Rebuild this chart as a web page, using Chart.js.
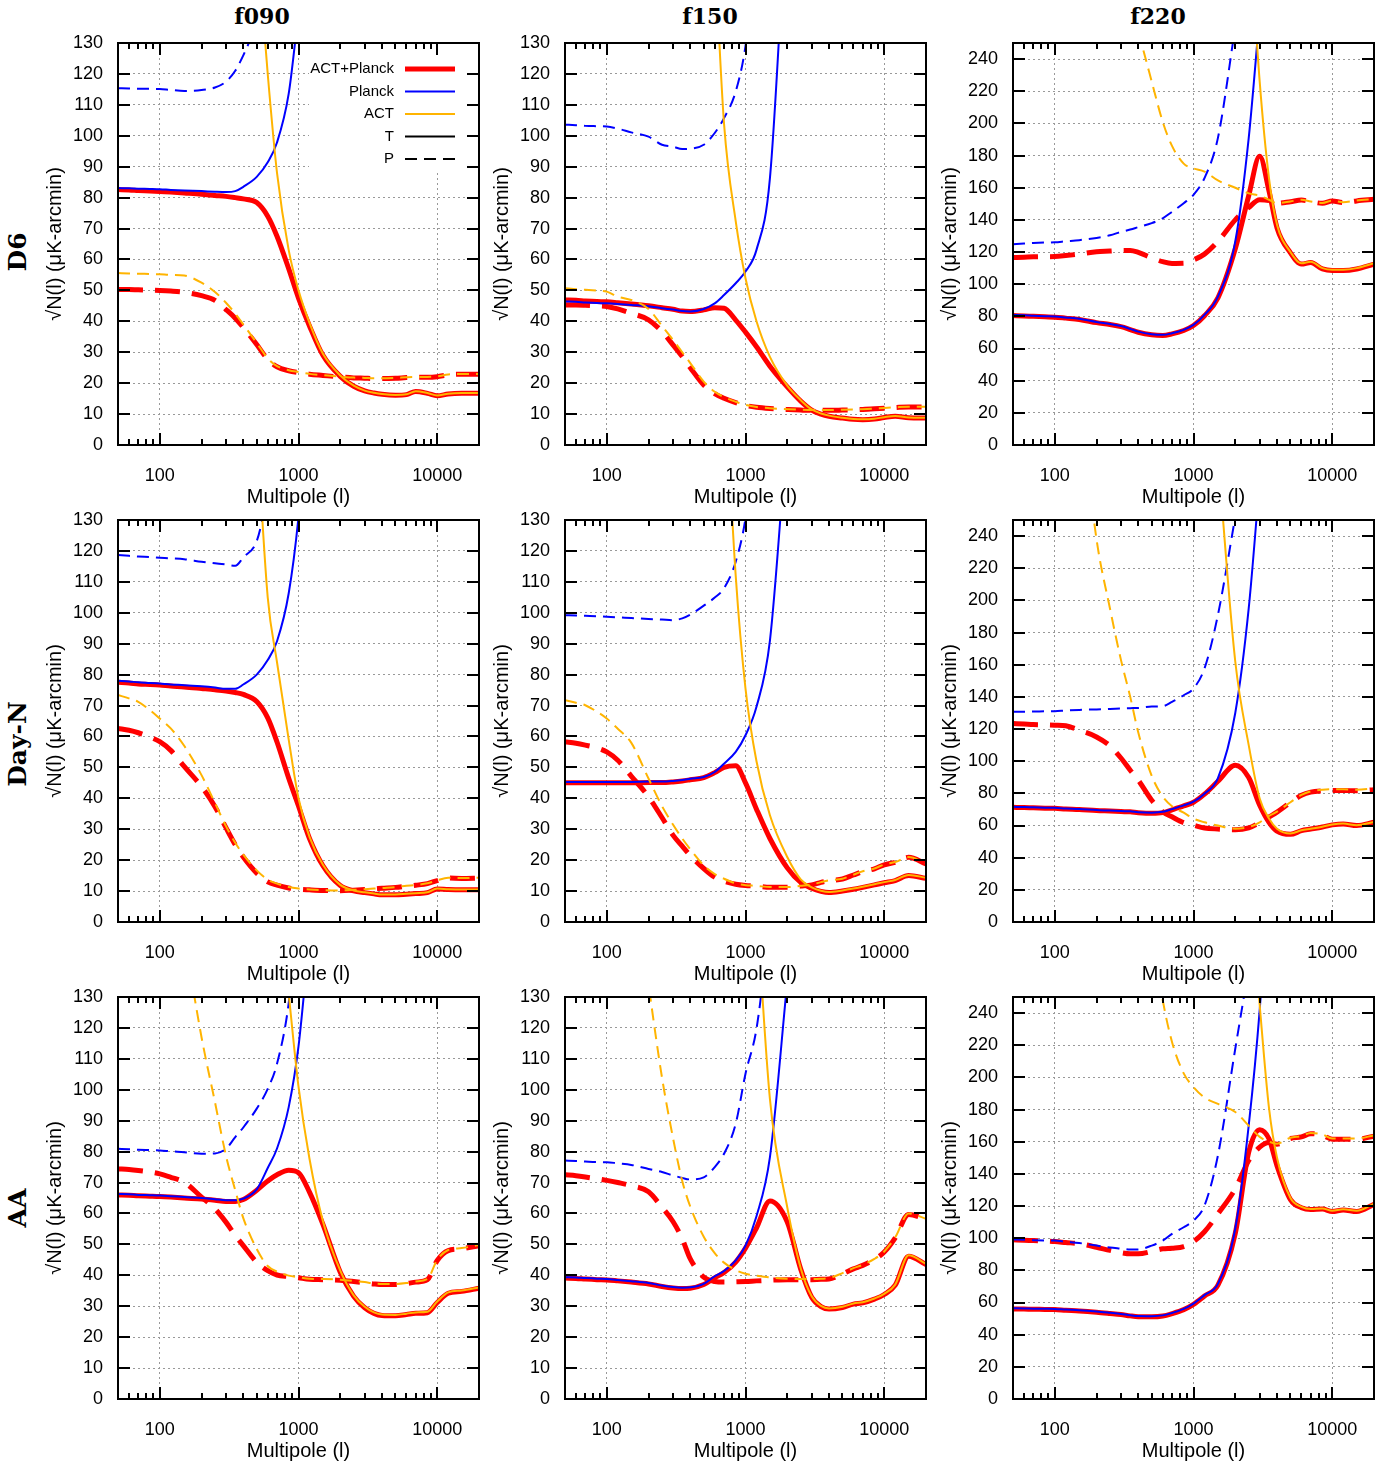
<!DOCTYPE html>
<html>
<head>
<meta charset="utf-8">
<title>Noise curves</title>
<script src="https://cdn.jsdelivr.net/npm/chart.js@4.4.0/dist/chart.umd.min.js"></script>
<style>
  body { margin: 0; background: #fff; width: 1390px; height: 1466px; position: relative; overflow: hidden; }
  canvas { position: absolute; }
  .col-title { position: absolute; font: bold 22px 'DejaVu Serif', serif; transform: translate(-50%, -50%); white-space: nowrap; }
  .row-title { position: absolute; font: bold 25px 'DejaVu Serif', serif; transform: translate(-50%, -50%) rotate(-90deg); white-space: nowrap; }
</style>
</head>
<body>
<div class="col-title" style="left:262px;top:16px">f090</div>
<div class="col-title" style="left:710px;top:16px">f150</div>
<div class="col-title" style="left:1158px;top:16px">f220</div>
<div class="row-title" style="left:17px;top:252px">D6</div>
<div class="row-title" style="left:17px;top:744px">Day-N</div>
<div class="row-title" style="left:17px;top:1208px">AA</div>

<script>
// ----- multipole grid shared by every curve -----
const ELL = [50, 60, 70, 85, 100, 120, 150, 200, 250, 300, 350, 400, 500, 600, 700, 850,
             1000, 1200, 1500, 2000, 2500, 3000, 3500, 4000, 5000, 6000, 7000, 8500,
             10000, 12000, 15000, 20000];

const X_TICKS = [100, 1000, 10000];
const Y_TICKS_LOW = [0, 10, 20, 30, 40, 50, 60, 70, 80, 90, 100, 110, 120, 130];
const Y_TICKS_HIGH = [0, 20, 40, 60, 80, 100, 120, 140, 160, 180, 200, 220, 240];

const _ = null;

// ----- D6 -----
const D6_F090 = {
  combT:   [82.6, 82.5, 82.3, 82.1, 82.0, 81.8, 81.5, 81.1, 80.7, 80.4, 80.0, 79.6, 78.4, 74.0, 67.5, 57.0, 47.5, 38.5, 29.0, 22.2, 19.0, 17.5, 16.8, 16.4, 16.1, 16.3, 17.3, 16.7, 15.9, 16.5, 16.7, 16.7],
  combP:   [50.3, 50.3, 50.2, 50.1, 50.0, 49.8, 49.4, 48.3, 46.8, 43.8, 41.0, 38.0, 32.5, 27.7, 25.3, 24.0, 23.4, 22.9, 22.5, 22.0, 21.7, 21.6, 21.5, 21.5, 21.6, 21.8, 21.9, 21.9, 22.1, 22.7, 22.9, 22.9],
  planckT: [83.1, 83.0, 82.9, 82.8, 82.7, 82.5, 82.3, 82.1, 81.9, 81.8, 82.1, 83.5, 86.7, 91.4, 97.8, 113.6, 140, _, _, _, _, _, _, _, _, _, _, _, _, _, _, _],
  planckP: [115.4, 115.3, 115.2, 115.2, 115.1, 114.8, 114.5, 114.8, 115.6, 117.5, 121.0, 126.0, 136.0, _, _, _, _, _, _, _, _, _, _, _, _, _, _, _, _, _, _, _],
  actT:    [_, _, _, _, _, _, _, _, _, _, _, _, 165, 120, 88, 63, 50, 39.5, 29.5, 22.5, 19.2, 17.6, 16.9, 16.5, 16.2, 16.4, 17.4, 16.8, 16.0, 16.6, 16.8, 16.8],
  actP:    [55.6, 55.5, 55.4, 55.3, 55.2, 55.0, 54.8, 52.5, 49.5, 46.0, 42.5, 39.0, 33.0, 28.0, 25.5, 24.2, 23.6, 23.0, 22.6, 22.1, 21.8, 21.7, 21.6, 21.6, 21.7, 21.9, 22.0, 22.0, 22.2, 22.8, 23.0, 23.0]
};
const D6_F150 = {
  combT:   [46.9, 46.8, 46.6, 46.4, 46.3, 46.0, 45.6, 45.0, 44.4, 43.9, 43.3, 43.2, 43.7, 44.4, 44.2, 40.4, 36.5, 31.8, 25.5, 18.8, 14.2, 11.3, 10.0, 9.3, 8.7, 8.3, 8.2, 8.4, 8.9, 9.3, 8.8, 8.7],
  combP:   [45.3, 45.3, 45.2, 45.0, 44.8, 44.0, 42.6, 40.5, 36.7, 32.4, 28.6, 25.0, 19.4, 16.6, 15.1, 13.7, 12.8, 12.2, 11.8, 11.5, 11.3, 11.2, 11.2, 11.2, 11.3, 11.4, 11.5, 11.7, 11.9, 12.1, 12.3, 12.3],
  planckT: [46.4, 46.3, 46.1, 45.9, 45.8, 45.6, 45.3, 44.9, 44.2, 43.8, 43.3, 43.2, 44.0, 45.8, 48.5, 52.3, 56.1, 63.1, 86.3, 180, _, _, _, _, _, _, _, _, _, _, _, _],
  planckP: [103.6, 103.4, 103.2, 103.1, 103.0, 102.3, 101.1, 99.7, 97.1, 96.5, 95.7, 95.8, 97.1, 100.9, 105.7, 114.3, 129.0, 160, _, _, _, _, _, _, _, _, _, _, _, _, _, _],
  actT:    [_, _, _, _, _, _, _, _, _, _, _, _, _, 160, 104, 72.4, 53.9, 40, 28.5, 19.2, 14.5, 11.5, 10.2, 9.5, 8.8, 8.4, 8.3, 8.5, 9.0, 9.4, 8.9, 8.8],
  actP:    [50.7, 50.4, 50.2, 49.9, 49.6, 48.0, 46.9, 44.0, 38.5, 34.0, 30.0, 26.5, 20.5, 17.2, 15.5, 14.0, 13.0, 12.3, 11.9, 11.6, 11.4, 11.3, 11.3, 11.3, 11.4, 11.5, 11.6, 11.8, 12.0, 12.2, 12.4, 12.4]
};
const D6_F220 = {
  combT:   [80.5, 80.3, 80.0, 79.7, 79.5, 78.9, 78.1, 76.1, 74.9, 73.6, 71.8, 70.1, 68.5, 68.1, 69.1, 71.2, 74.3, 80.4, 91.5, 122, 155, 179.5, 158, 135, 119.5, 112.5, 113.5, 109.5, 108.5, 108.5, 109.5, 112.5],
  combP:   [116.6, 116.8, 117.0, 117.1, 117.2, 117.8, 118.7, 120.2, 120.6, 121.0, 121.0, 119.8, 116.4, 114.0, 112.9, 113.0, 115.1, 118.7, 126.6, 140.0, 147.7, 152.5, 152, 150.3, 151.3, 152.3, 151.3, 150.3, 151.8, 150.8, 151.8, 152.8],
  planckT: [80.9, 80.7, 80.4, 80.1, 79.9, 79.3, 78.5, 76.5, 75.3, 74.0, 72.2, 70.5, 68.9, 68.5, 69.5, 71.6, 74.7, 80.9, 92.3, 126.6, 190.9, 268, _, _, _, _, _, _, _, _, _, _],
  planckP: [124.9, 125.3, 125.6, 125.9, 126.1, 126.7, 127.4, 128.8, 130.4, 132.5, 134.0, 135.5, 138.0, 141.0, 145.0, 150.4, 155.6, 166.0, 191.0, 260, _, _, _, _, _, _, _, _, _, _, _, _],
  actT:    [_, _, _, _, _, _, _, _, _, _, _, _, _, _, _, _, _, _, _, _, 330, 226, 166, 137, 120, 113, 114, 110, 109, 109, 110, 113],
  actP:    [_, _, _, _, _, _, _, _, _, _, 280, 258, 226, 201, 186, 175, 172, 170, 164.5, 160, 156.5, 155, 152.5, 150.5, 151.5, 152.5, 151.5, 150.5, 152, 151, 152, 153]
};

// ----- Day-N -----
const DN_F090 = {
  combT:   [77.5, 77.3, 77.0, 76.8, 76.6, 76.3, 76.0, 75.5, 75.1, 74.7, 74.2, 73.6, 71.3, 66.0, 58.2, 46.5, 37.5, 27.0, 18.2, 11.8, 10.1, 9.5, 9.1, 8.8, 8.8, 9.0, 9.2, 9.5, 10.7, 10.5, 10.4, 10.4],
  combP:   [62.6, 62.0, 61.2, 59.8, 58.3, 55.5, 50.3, 43.8, 37.3, 30.5, 25.0, 21.0, 15.8, 13.0, 11.9, 11.0, 10.6, 10.4, 10.2, 10.1, 10.3, 10.5, 10.7, 10.9, 11.2, 11.6, 11.9, 12.4, 13.4, 14.2, 14.1, 14.2],
  planckT: [78.0, 77.8, 77.5, 77.3, 77.1, 76.8, 76.6, 76.2, 75.8, 75.4, 75.4, 76.8, 80.0, 84.7, 90.8, 106.3, 131, 175, _, _, _, _, _, _, _, _, _, _, _, _, _, _],
  planckP: [118.7, 118.4, 118.2, 118.0, 117.8, 117.6, 117.3, 116.5, 116.0, 115.6, 115.2, 117.9, 123.2, 138, _, _, _, _, _, _, _, _, _, _, _, _, _, _, _, _, _, _],
  actT:    [_, _, _, _, _, _, _, _, _, _, _, _, 160, 105, 84, 59, 40, 27.5, 18.5, 12.0, 10.2, 9.6, 9.2, 8.9, 8.9, 9.1, 9.3, 9.6, 10.8, 10.6, 10.5, 10.5],
  actP:    [73.4, 72.3, 71.2, 68.5, 65.8, 62.6, 57.0, 47.5, 38.5, 31.0, 25.6, 21.8, 16.7, 13.7, 12.4, 11.3, 10.8, 10.5, 10.3, 10.2, 10.4, 10.6, 10.8, 11.0, 11.3, 11.7, 12.0, 12.5, 13.5, 14.3, 14.2, 14.3]
};
const DN_F150 = {
  combT:   [45.0, 45.0, 45.0, 45.0, 45.0, 45.0, 45.0, 45.1, 45.1, 45.3, 45.6, 46.0, 46.7, 48.3, 50.0, 50.5, 45.0, 36.5, 27.0, 17.5, 12.8, 10.9, 9.9, 9.5, 10.0, 10.6, 11.2, 12.0, 12.7, 13.4, 15.0, 14.1],
  combP:   [58.3, 57.8, 57.2, 56.3, 55.0, 52.3, 47.2, 40.5, 33.8, 28.1, 24.5, 21.5, 17.3, 14.5, 13.2, 12.2, 11.8, 11.6, 11.2, 11.2, 11.6, 12.0, 12.8, 13.4, 13.9, 15.2, 16.3, 17.2, 18.5, 19.3, 20.9, 18.8],
  planckT: [45.3, 45.3, 45.3, 45.3, 45.3, 45.3, 45.3, 45.4, 45.4, 45.6, 45.9, 46.3, 46.9, 48.5, 51.2, 55.0, 60.4, 69.6, 91, 160, _, _, _, _, _, _, _, _, _, _, _, _],
  planckP: [99.2, 99.1, 99.0, 98.9, 98.7, 98.5, 98.3, 98.0, 97.8, 97.6, 98.2, 99.4, 102.3, 104.9, 107.9, 116.5, 130.5, 160, _, _, _, _, _, _, _, _, _, _, _, _, _, _],
  actT:    [_, _, _, _, _, _, _, _, _, _, _, _, _, _, 180, 112, 75.5, 52, 34.5, 21, 13.8, 11.2, 10.1, 9.7, 10.2, 10.8, 11.4, 12.2, 12.9, 13.6, 15.2, 14.3],
  actP:    [71.7, 70.9, 70.1, 68.0, 65.8, 62.5, 58.0, 46.4, 37.5, 31.5, 27.0, 23.5, 18.3, 15.5, 14.0, 12.5, 11.9, 11.7, 11.3, 11.3, 11.7, 12.1, 12.9, 13.5, 14.0, 15.3, 16.4, 17.3, 18.6, 19.4, 21.0, 18.9]
};
const DN_F220 = {
  combT:   [71.3, 71.2, 71.0, 70.8, 70.7, 70.3, 70.0, 69.3, 69.0, 68.7, 68.5, 68.0, 67.6, 68.0, 69.8, 72.2, 74.5, 79.5, 87.5, 97.5, 89.8, 72.6, 62.0, 56.5, 54.5, 56.8, 57.8, 59.1, 60.4, 61.0, 60.0, 62.0],
  combP:   [123.4, 123.1, 122.8, 122.6, 122.4, 122.0, 119.3, 115.1, 109.5, 102, 94.4, 88.2, 75.7, 68.5, 65.4, 61.8, 60.2, 58.5, 57.8, 57.3, 58.5, 61.8, 65.3, 68.3, 74.3, 78.8, 80.8, 81.6, 81.8, 81.8, 81.6, 82.3],
  planckT: [71.6, 71.5, 71.3, 71.1, 71.0, 70.6, 70.3, 69.6, 69.3, 69.0, 68.8, 68.3, 68.0, 68.5, 70.2, 72.5, 74.8, 79.8, 89.5, 130, 195, 275, _, _, _, _, _, _, _, _, _, _],
  planckP: [130.7, 130.8, 130.9, 131.0, 131.1, 131.5, 131.9, 132.2, 132.5, 132.8, 133.0, 133.1, 134.0, 134.2, 136.9, 141.0, 145.2, 157.7, 191.0, 252, _, _, _, _, _, _, _, _, _, _, _, _],
  actT:    [_, _, _, _, _, _, _, _, _, _, _, _, _, _, _, _, _, _, 290, 162, 110, 76.8, 64.3, 58, 55, 57, 58, 59.3, 60.6, 61.2, 60.2, 62.2],
  actP:    [_, _, _, _, _, _, 330, 238, 195, 163, 140, 117.8, 90.9, 78, 72, 68, 64.3, 62, 60, 58, 59, 62, 66, 68.6, 74.5, 79, 81.2, 82.3, 82.5, 82.5, 82.3, 83]
};

// ----- AA -----
const AA_F090 = {
  combT:   [66.0, 65.9, 65.7, 65.6, 65.5, 65.3, 65.0, 64.7, 64.3, 63.9, 63.9, 64.5, 67.5, 70.5, 72.5, 74.0, 73.2, 66.9, 56.5, 41.0, 33.2, 29.5, 27.7, 27.0, 26.9, 27.3, 27.7, 27.9, 31.2, 34.2, 34.8, 35.8],
  combP:   [74.4, 74.2, 73.9, 73.4, 72.8, 71.7, 70.1, 65.3, 61.5, 57.2, 52.9, 49.6, 44.2, 41.5, 40.1, 39.6, 39.2, 38.7, 38.6, 38.4, 38.0, 37.6, 37.2, 37.0, 37.0, 37.3, 37.8, 38.6, 44.8, 48.0, 48.6, 49.6],
  planckT: [66.3, 66.2, 66.0, 65.9, 65.8, 65.6, 65.3, 65.0, 64.6, 64.3, 64.3, 64.8, 67.8, 74.7, 81.0, 94.4, 114, 150, _, _, _, _, _, _, _, _, _, _, _, _, _, _],
  planckP: [80.9, 80.8, 80.6, 80.5, 80.4, 80.1, 79.8, 79.3, 79.4, 80.9, 84.7, 87.8, 93.9, 100.3, 108.4, 128, 160, _, _, _, _, _, _, _, _, _, _, _, _, _, _, _],
  actT:    [_, _, _, _, _, _, _, _, _, _, _, _, _, _, _, 131, 101, 77.7, 57.5, 41.5, 33.5, 29.8, 28.0, 27.3, 27.2, 27.6, 28.0, 28.2, 31.5, 34.5, 35.1, 36.1],
  actP:    [_, _, _, _, _, _, 150, 117, 96, 78.7, 67.5, 58.5, 48.5, 43.0, 41.2, 39.9, 39.4, 38.9, 38.8, 38.6, 38.2, 37.8, 37.4, 37.2, 37.2, 37.5, 38.0, 38.8, 45.0, 48.2, 48.8, 49.8]
};
const AA_F150 = {
  combT:   [39.1, 39.0, 38.8, 38.6, 38.5, 38.2, 37.8, 37.2, 36.4, 35.9, 35.7, 35.8, 37.0, 39.2, 40.9, 44.3, 48.8, 55.3, 64.0, 57.2, 42.0, 32.9, 29.9, 29.1, 29.6, 30.7, 31.1, 32.3, 33.8, 36.8, 46.2, 43.5],
  combP:   [72.5, 72.2, 71.8, 71.2, 70.7, 70.0, 69.0, 67.0, 62.0, 57.4, 51.8, 45.3, 39.4, 38.0, 37.8, 37.9, 38.0, 38.2, 38.4, 38.6, 38.6, 38.6, 38.7, 38.8, 40.5, 42.1, 43.2, 45.1, 47.5, 52.1, 59.7, 58.1],
  planckT: [39.4, 39.3, 39.1, 38.9, 38.8, 38.5, 38.1, 37.5, 36.7, 36.2, 36.0, 36.1, 37.2, 39.7, 41.4, 44.8, 49.6, 59.1, 78.2, 135, _, _, _, _, _, _, _, _, _, _, _, _],
  planckP: [77.1, 77.0, 76.8, 76.6, 76.6, 76.2, 75.7, 74.4, 73.4, 72.3, 71.5, 71.0, 71.7, 75.0, 79.3, 89.0, 105.2, 119.7, 155, _, _, _, _, _, _, _, _, _, _, _, _, _],
  actT:    [_, _, _, _, _, _, _, _, _, _, _, _, _, _, _, _, _, 160, 97, 62, 42.3, 33.2, 30.1, 29.3, 29.8, 30.9, 31.3, 32.5, 34.0, 37, 46.5, 43.7],
  actP:    [_, _, _, _, _, _, 175, 134, 104, 84.5, 70.5, 62.2, 52.5, 47.2, 44.1, 41.7, 40.5, 39.9, 39.3, 38.9, 38.8, 38.8, 38.9, 39.1, 40.7, 42.3, 43.4, 45.3, 47.7, 52.3, 60, 58.3]
};
const AA_F220 = {
  combT:   [56.0, 55.9, 55.8, 55.7, 55.6, 55.2, 54.8, 54.0, 53.2, 52.5, 51.7, 51.2, 51.1, 51.6, 53.1, 55.6, 58.9, 64.1, 70.8, 103, 153.5, 167.5, 161.8, 145, 124, 119, 117.8, 118.1, 116.6, 117.6, 116.6, 121],
  combP:   [99.0, 98.8, 98.5, 98.2, 97.9, 97.3, 96.6, 94.4, 92.4, 91.0, 90.3, 90.3, 91.8, 93.4, 93.8, 94.8, 97.9, 104, 115.1, 130.7, 148.3, 156.6, 159.5, 158.5, 162.0, 163.0, 165.0, 164.0, 161.5, 161.5, 161.5, 163.5],
  planckT: [56.4, 56.3, 56.2, 56.1, 56.0, 55.6, 55.2, 54.4, 53.6, 52.9, 52.1, 51.6, 51.5, 52.0, 53.5, 56.0, 59.3, 64.6, 71.6, 106, 170, 242, 330, _, _, _, _, _, _, _, _, _],
  planckP: [99.2, 99.0, 98.8, 98.6, 98.5, 97.8, 97.0, 95.4, 94.2, 93.5, 92.9, 93.0, 95.4, 98.5, 102.7, 106.8, 111.0, 120.3, 151.5, 217.8, 268, _, _, _, _, _, _, _, _, _, _, _],
  actT:    [_, _, _, _, _, _, _, _, _, _, _, _, _, _, _, _, _, _, _, _, 330, 245, 181, 150, 125, 119.5, 118.2, 118.5, 117, 118, 117, 121.4],
  actP:    [_, _, _, _, _, _, _, _, _, _, _, 330, 290, 248, 222, 202.5, 194, 187.5, 183.5, 178.5, 170, 163, 160, 158.8, 162.5, 163.5, 165.5, 164.5, 162, 162, 162, 164]
};

// ----- styling -----
const RED = '#ff0000';
const BLUE = '#0000ff';
const ORANGE = '#ffb400';
const GRID = '#999999';
const SANS = "'Liberation Sans', Arial, sans-serif";

const PLOT_W = 361, PLOT_H = 402;
const PAD_L = 80, PAD_T = 10, PAD_R = 10, PAD_B = 70;

const KEY = [
  { label: 'ACT+Planck', color: RED, width: 5, dash: [] },
  { label: 'Planck', color: BLUE, width: 2, dash: [] },
  { label: 'ACT', color: ORANGE, width: 2, dash: [] },
  { label: 'T', color: '#000', width: 2, dash: [] },
  { label: 'P', color: '#000', width: 2, dash: [12, 7] }
];

// opaque key box in the top right corner of the first panel
const keyBox = {
  id: 'keyBox',
  afterDatasetsDraw(chart, args, opts) {
    if (!opts.show) return;
    const { ctx, chartArea: a } = chart;
    ctx.save();
    ctx.fillStyle = '#fff';
    ctx.fillRect(a.right - 170, a.top, 170, 128);
    ctx.font = '15px ' + SANS;
    ctx.textAlign = 'right';
    ctx.textBaseline = 'middle';
    KEY.forEach((k, i) => {
      const yy = a.top + 26 + i * 22.5;
      ctx.fillStyle = '#000';
      ctx.fillText(k.label, a.right - 85, yy);
      ctx.strokeStyle = k.color;
      ctx.lineWidth = k.width;
      ctx.setLineDash(k.dash);
      ctx.beginPath();
      ctx.moveTo(a.right - 74, yy);
      ctx.lineTo(a.right - 24, yy);
      ctx.stroke();
    });
    ctx.restore();
  }
};

// gnuplot-like frame with inward tics on all four sides
const frameTics = {
  id: 'frameTics',
  afterDraw(chart) {
    const { ctx, chartArea: a, scales: { x, y } } = chart;
    ctx.save();
    ctx.strokeStyle = '#000';
    ctx.lineWidth = 2;
    ctx.setLineDash([]);
    ctx.beginPath();
    y.ticks.forEach(t => {
      const py = Math.round(y.getPixelForValue(t.value));
      ctx.moveTo(a.left, py); ctx.lineTo(a.left + 12, py);
      ctx.moveTo(a.right, py); ctx.lineTo(a.right - 12, py);
    });
    for (let dec = 10; dec <= 10000; dec *= 10) {
      for (let m = 1; m <= 9; m++) {
        const v = m * dec;
        if (v < x.min || v > x.max) continue;
        const len = m === 1 ? 12 : 6;
        const px = Math.round(x.getPixelForValue(v));
        ctx.moveTo(px, a.bottom); ctx.lineTo(px, a.bottom - len);
        ctx.moveTo(px, a.top); ctx.lineTo(px, a.top + len);
      }
    }
    ctx.stroke();
    ctx.strokeRect(a.left, a.top, a.width, a.height);
    ctx.restore();
  }
};

function curve(label, vals, color, width, dash, order) {
  return {
    label,
    data: ELL.map((l, i) => ({ x: l, y: vals[i] })),
    borderColor: color,
    borderWidth: width,
    borderDash: dash,
    pointRadius: 0,
    fill: false,
    cubicInterpolationMode: 'monotone',
    clip: 0,
    order
  };
}

// keep the plot frame exactly where the layout puts it
function noLabelPadding(s) {
  s.paddingTop = 0;
  s.paddingBottom = 0;
  s.paddingLeft = 0;
  s.paddingRight = 0;
}

function drawPanel(series, plotLeft, plotTop, yMax, yTicks, withKey) {
  const canvas = document.createElement('canvas');
  canvas.width = PAD_L + PLOT_W + PAD_R;
  canvas.height = PAD_T + PLOT_H + PAD_B;
  canvas.style.left = (plotLeft - PAD_L) + 'px';
  canvas.style.top = (plotTop - PAD_T) + 'px';
  document.body.appendChild(canvas);

  new Chart(canvas, {
    type: 'line',
    data: {
      datasets: [
        curve('ACT T', series.actT, ORANGE, 2, [], 1),
        curve('ACT P', series.actP, ORANGE, 2, [12, 7], 1),
        curve('Planck T', series.planckT, BLUE, 2, [], 1),
        curve('Planck P', series.planckP, BLUE, 2, [12, 7], 1),
        curve('ACT+Planck T', series.combT, RED, 5, [], 2),
        curve('ACT+Planck P', series.combP, RED, 5, [25, 12], 2)
      ]
    },
    options: {
      responsive: false,
      animation: false,
      devicePixelRatio: 1,
      layout: { padding: { top: PAD_T, right: PAD_R, left: 0, bottom: 0 } },
      plugins: {
        legend: { display: false },
        tooltip: { enabled: false },
        keyBox: { show: withKey }
      },
      scales: {
        x: {
          type: 'logarithmic',
          min: 50,
          max: 20000,
          afterFit: s => { s.height = PAD_B; noLabelPadding(s); },
          afterBuildTicks: s => { s.ticks = X_TICKS.map(v => ({ value: v })); },
          grid: { color: GRID, lineWidth: 1, drawTicks: false },
          border: { display: false, dash: [2, 3] },
          ticks: {
            autoSkip: false, maxRotation: 0, padding: 20, color: '#000',
            font: { family: SANS, size: 18 },
            callback: v => String(v)
          },
          title: {
            display: true, text: 'Multipole (l)', color: '#000',
            font: { family: SANS, size: 20 },
            padding: { top: 0, bottom: 6 }
          }
        },
        y: {
          min: 0,
          max: yMax,
          afterFit: s => { s.width = PAD_L; noLabelPadding(s); },
          afterBuildTicks: s => { s.ticks = yTicks.map(v => ({ value: v })); },
          grid: { color: GRID, lineWidth: 1, drawTicks: false },
          border: { display: false, dash: [2, 3] },
          ticks: {
            padding: 15, color: '#000',
            font: { family: SANS, size: 18 },
            callback: v => String(v)
          },
          title: {
            display: true, text: '√N(l) (μK-arcmin)', color: '#000',
            font: { family: SANS, size: 20 },
            padding: { top: 5, bottom: 0 }
          }
        }
      }
    },
    plugins: [keyBox, frameTics]
  });
}

const COLS = [118, 565, 1013];
const ROWS = [43, 520, 997];

drawPanel(D6_F090, COLS[0], ROWS[0], 130, Y_TICKS_LOW, true);
drawPanel(D6_F150, COLS[1], ROWS[0], 130, Y_TICKS_LOW, false);
drawPanel(D6_F220, COLS[2], ROWS[0], 250, Y_TICKS_HIGH, false);
drawPanel(DN_F090, COLS[0], ROWS[1], 130, Y_TICKS_LOW, false);
drawPanel(DN_F150, COLS[1], ROWS[1], 130, Y_TICKS_LOW, false);
drawPanel(DN_F220, COLS[2], ROWS[1], 250, Y_TICKS_HIGH, false);
drawPanel(AA_F090, COLS[0], ROWS[2], 130, Y_TICKS_LOW, false);
drawPanel(AA_F150, COLS[1], ROWS[2], 130, Y_TICKS_LOW, false);
drawPanel(AA_F220, COLS[2], ROWS[2], 250, Y_TICKS_HIGH, false);
</script>
</body>
</html>
